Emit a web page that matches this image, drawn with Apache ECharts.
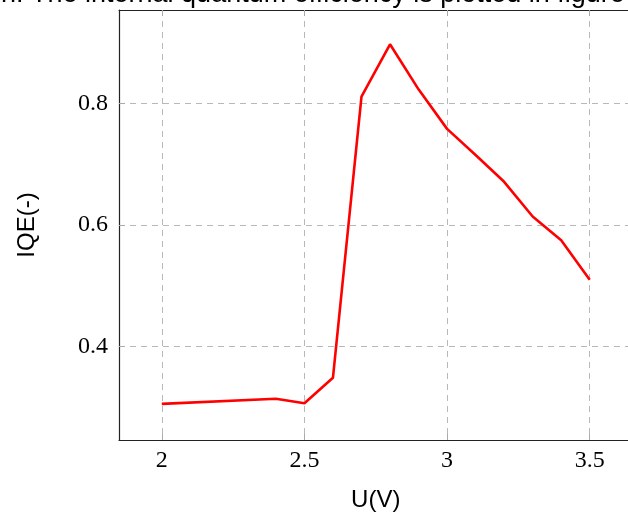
<!DOCTYPE html>
<html>
<head>
<meta charset="utf-8">
<title>IQE</title>
<script src="https://cdn.jsdelivr.net/npm/echarts@6/dist/echarts.min.js"></script>
<style>
  html, body { margin: 0; padding: 0; background: #fff; }
  #chart { width: 628px; height: 516px; }
</style>
</head>
<body>
<div id="chart"></div>
<script>
var voltage = [2.0, 2.4, 2.5, 2.6, 2.7, 2.8, 2.9, 3.0, 3.1, 3.2, 3.3, 3.4, 3.5];
var iqe = [0.306, 0.3145, 0.307, 0.349, 0.811, 0.897, 0.823, 0.758, 0.715, 0.671, 0.614, 0.575, 0.510];
var xTicks = [2, 2.5, 3, 3.5];
var yTicks = [0.4, 0.6, 0.8];

var chart = echarts.init(document.getElementById('chart'));
var tickFont = { fontFamily: 'Liberation Serif', fontSize: 24, color: '#000' };
var gridLine = { show: true, lineStyle: { color: '#b8b8b8', type: [6, 5], width: 1 } };

chart.setOption({
  animation: false,
  grid: { left: 119, top: 10, right: -4.5, bottom: 76, outerBoundsMode: 'none', containLabel: false },
  graphic: [{
    type: 'text',
    left: 1,
    top: -18.5,
    style: {
      text: 'n. The internal quantum efficiency is plotted in figure',
      font: '27px "Liberation Sans"',
      fill: '#000'
    }
  }],
  xAxis: [{
    type: 'value',
    min: 1.85,
    max: 3.65,
    name: 'U(V)',
    nameLocation: 'middle',
    nameGap: 48,
    nameTextStyle: { fontFamily: 'Liberation Sans', fontSize: 24, color: '#000' },
    axisLine: { show: true, lineStyle: { color: '#222', width: 1.2 } },
    axisTick: { show: true, inside: true, length: 6, customValues: xTicks, lineStyle: { color: '#aaa' } },
    axisLabel: Object.assign({ customValues: xTicks, margin: 9 }, tickFont),
    splitLine: gridLine
  }, {
    type: 'value',
    position: 'top',
    min: 1.85,
    max: 3.65,
    axisLine: { show: true, lineStyle: { color: '#222', width: 1.2 } },
    axisTick: { show: true, inside: true, length: 6, customValues: xTicks, lineStyle: { color: '#aaa' } },
    axisLabel: { show: false },
    splitLine: { show: false }
  }],
  yAxis: {
    type: 'value',
    min: 0.2466,
    max: 0.9534,
    name: 'IQE(-)',
    nameLocation: 'middle',
    nameGap: 80,
    nameRotate: 90,
    nameTextStyle: { fontFamily: 'Liberation Sans', fontSize: 24, color: '#000' },
    axisLine: { show: true, lineStyle: { color: '#222', width: 1.2 } },
    axisTick: { show: true, inside: true, length: 6, customValues: yTicks, lineStyle: { color: '#aaa' } },
    axisLabel: Object.assign({
      customValues: yTicks,
      margin: 11,
      formatter: function (v) { return v.toFixed(1); }
    }, tickFont),
    splitLine: gridLine
  },
  series: [{
    type: 'line',
    data: voltage.map(function (v, i) { return [v, iqe[i]]; }),
    showSymbol: false,
    lineStyle: { color: '#ff0000', width: 2.6 },
    itemStyle: { color: '#ff0000' }
  }]
});
</script>
</body>
</html>
